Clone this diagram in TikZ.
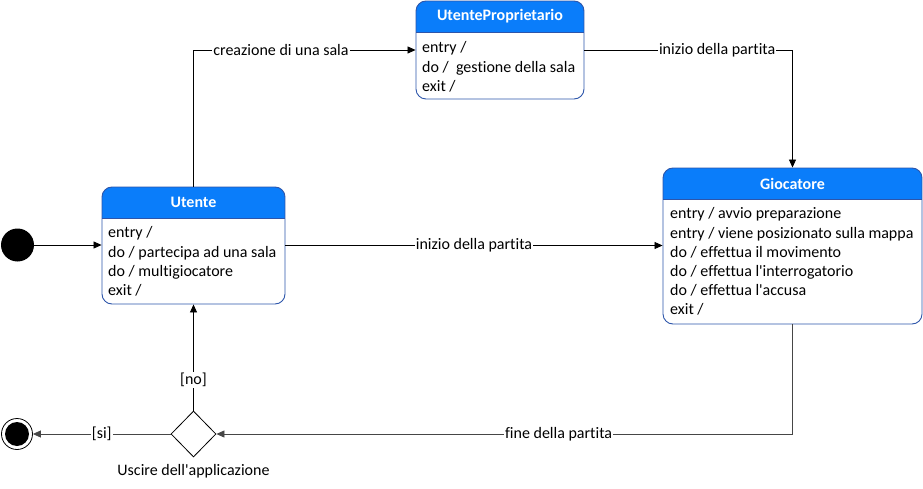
\documentclass[tikz,border=0pt]{standalone}
\usepackage{fontspec}
\setmainfont{Carlito}[Ligatures={TeXOff,CommonOff}]
\usetikzlibrary{arrows.meta,shapes.geometric}
\definecolor{hdrblue}{RGB}{10,125,250}
\definecolor{bordblue}{RGB}{45,85,170}
\definecolor{dgray}{RGB}{70,70,70}
\tikzset{
  x=1pt,y=-1pt,
  txt/.style={font=\fontsize{16}{19.2}\selectfont},
  bodytext/.style={txt,align=left,anchor=north west,inner sep=0pt},
  hdrtext/.style={font=\fontsize{16}{19.2}\selectfont\bfseries,text=white,inner sep=0pt},
  framebox/.style={draw=bordblue,line width=0.9pt,rounded corners=10pt,inner sep=0pt},
  conn/.style={line width=0.8pt,-{Triangle[length=8pt,width=7pt]}},
  lbl/.style={txt,fill=white,inner sep=1pt},
}
\newcommand\mkstate[7]{%
  \begin{scope}
    \clip[rounded corners=10pt] (#2,#3) rectangle (#4,#5);
    \fill[white] (#2,#3) rectangle (#4,#5);
    \fill[hdrblue] (#2,#3) rectangle (#4,#6);
  \end{scope}
  \draw[bordblue,line width=0.8pt] (#2,#6) -- (#4,#6);
  \node[framebox,minimum width={(#4-#2)*1pt},minimum height={(#5-#3)*1pt}] (#1) at ({(#2+#4)/2},{(#3+#5)/2}) {};
  \node[hdrtext] (#1-title) at ({(#2+#4)/2},{(#3+#6)/2}) {#7};
}
\begin{document}
\begin{tikzpicture}
\useasboundingbox[fill=white] (0,0) rectangle (923,489);
% states
\mkstate{ut}{102}{187}{285}{304}{218}{Utente}
\node[bodytext] (ut-body) at (108,226.5) {entry /\\do / partecipa ad una sala\\do / multigiocatore\\exit /};
\mkstate{up}{416}{1}{584}{99}{32}{UtenteProprietario}
\node[bodytext] (up-body) at (422,41.5) {entry /\\do /\ \ gestione della sala\\exit /};
\mkstate{gi}{663}{168}{922}{324}{199}{Giocatore}
\node[bodytext] (gi-body) at (670,207.5) {entry / avvio preparazione\\entry / viene posizionato sulla mappa\\do / effettua il movimento\\do / effettua l'interrogatorio\\do / effettua l'accusa\\exit /};
% pseudo states
\node[circle,fill=black,minimum size=33pt,inner sep=0pt] (init) at (17.5,245) {};
\node[circle,draw=black,line width=0.8pt,fill=white,minimum size=31pt,inner sep=0pt] (fin) at (17,434) {};
\node[circle,fill=black,minimum size=24pt,inner sep=0pt] (fin-in) at (fin) {};
\node[diamond,draw=black,line width=0.8pt,fill=white,minimum width=45pt,minimum height=46pt,inner sep=0pt] (dec) at (193.5,434) {};
\node[txt,inner sep=0pt] (dec-lbl) at (193.5,471) {Uscire dell'applicazione};
% connectors
\draw[conn] (init) -- (ut.west |- init);
\draw[conn] (ut.north) |- node[lbl,pos=0.697] (l1) {creazione di una sala} (up.west);
\draw[conn] (up.east) -| node[lbl,pos=0.319] (l2) {inizio della partita} (gi.north);
\draw[conn] (ut.east) -- node[lbl,pos=0.5] (l3) {inizio della partita} (gi.west |- ut.east);
\draw[conn,draw=dgray] (gi.south) |- node[lbl,pos=0.703,text=black] (l4) {fine della partita} (dec.east);
\draw[conn,draw=dgray] (dec.west) -- node[lbl,pos=0.5,text=black] (l5) {[si]} (fin);
\draw[conn] (dec.north) -- node[lbl,pos=0.29] (l6) {[no]} (ut.south);
\end{tikzpicture}
\end{document}
